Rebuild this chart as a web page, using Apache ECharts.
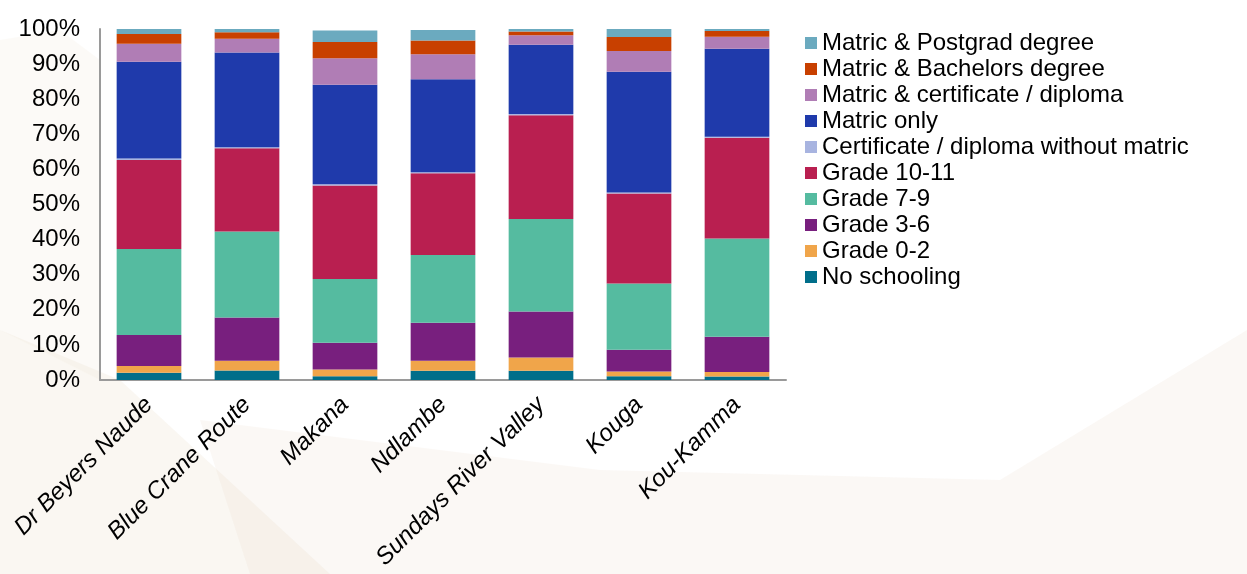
<!DOCTYPE html>
<html>
<head>
<meta charset="utf-8">
<script src="https://cdn.jsdelivr.net/npm/echarts@6/dist/echarts.min.js"></script>
<style>html,body{margin:0;padding:0;background:#fff}#c{width:1247px;height:574px}</style>
</head>
<body>
<div id="c"></div>
<script>
const categories = ["Dr Beyers Naude", "Blue Crane Route", "Makana", "Ndlambe", "Sundays River Valley", "Kouga", "Kou-Kamma"];
const yTicks = [0, 10, 20, 30, 40, 50, 60, 70, 80, 90, 100];

const noSchooling   = [2.1, 2.7, 1.1, 2.6, 2.6, 1.1, 1.0];
const grade0_2      = [1.9, 2.8, 1.9, 2.9, 3.8, 1.3, 1.3];
const grade3_6      = [8.8, 12.3, 7.6, 10.8, 13.1, 6.2, 10.0];
const grade7_9      = [24.5, 24.5, 18.2, 19.3, 26.4, 18.9, 28.0];
const grade10_11    = [25.4, 23.7, 26.6, 23.3, 29.5, 25.6, 28.7];
const certNoMatric  = [0.4, 0.3, 0.4, 0.3, 0.4, 0.3, 0.3];
const matricOnly    = [27.6, 27.0, 28.3, 26.5, 19.7, 34.4, 25.1];
const matricCert    = [5.1, 3.9, 7.6, 7.1, 2.7, 5.9, 3.4];
const matricBach    = [2.8, 1.9, 4.6, 3.9, 1.1, 4.0, 1.6];
const matricPost    = [1.4, 0.9, 3.3, 3.0, 0.7, 2.3, 0.7];

const seriesDefs = [
  ["No schooling", noSchooling, "#006E8A"],
  ["Grade 0-2", grade0_2, "#F0A54A"],
  ["Grade 3-6", grade3_6, "#781F7E"],
  ["Grade 7-9", grade7_9, "#55BBA0"],
  ["Grade 10-11", grade10_11, "#B91F50"],
  ["Certificate / diploma without matric", certNoMatric, "#A8B4E0"],
  ["Matric only", matricOnly, "#1F3AAB"],
  ["Matric & certificate / diploma", matricCert, "#B07DB5"],
  ["Matric & Bachelors degree", matricBach, "#C84000"],
  ["Matric & Postgrad degree", matricPost, "#6BAABF"]
];

const chart = echarts.init(document.getElementById('c'));
chart.setOption({
  backgroundColor: '#ffffff',
  animation: false,
  textStyle: { fontFamily: 'Liberation Sans, Arial, sans-serif' },
  graphic: [
    { type: 'polygon', z: -10, silent: true,
      shape: { points: [[0, 330], [120, 380], [330, 574], [0, 574]] },
      style: { fill: 'rgba(236,222,205,0.25)' } },
    { type: 'polygon', z: -10, silent: true,
      shape: { points: [[200, 420], [600, 470], [1000, 480], [1247, 330], [1247, 574], [250, 574]] },
      style: { fill: 'rgba(236,222,205,0.2)' } },
    { type: 'polygon', z: -10, silent: true,
      shape: { points: [[0, 40], [60, 30], [100, 60], [100, 380], [0, 330]] },
      style: { fill: 'rgba(236,222,205,0.16)' } }
  ],
  grid: { left: 100, right: 461, top: 29, bottom: 194, containLabel: false },
  legend: {
    orient: 'vertical',
    left: 805,
    top: 31,
    padding: 0,
    itemWidth: 12,
    itemHeight: 12,
    itemGap: 2,
    icon: 'rect',
    data: seriesDefs.map(s => s[0]).reverse(),
    textStyle: { fontSize: 24, color: '#000', lineHeight: 24 }
  },
  xAxis: {
    type: 'category',
    data: categories,
    axisLine: { lineStyle: { color: '#9a9a9a', width: 2 } },
    axisTick: { show: false },
    axisLabel: { rotate: 45, fontSize: 24, fontStyle: 'italic', color: '#000', margin: 21, interval: 0 }
  },
  yAxis: {
    type: 'value',
    min: yTicks[0],
    max: yTicks[yTicks.length - 1],
    interval: 10,
    axisLine: { show: true, lineStyle: { color: '#9a9a9a', width: 2 } },
    axisTick: { show: false },
    splitLine: { show: false },
    axisLabel: { fontSize: 24, color: '#000', margin: 20, formatter: '{value}%' }
  },
  series: seriesDefs.map(([name, data, color]) => ({
    name, type: 'bar', stack: 'total', data,
    barWidth: '66%',
    itemStyle: { color }
  }))
});
</script>
</body>
</html>
